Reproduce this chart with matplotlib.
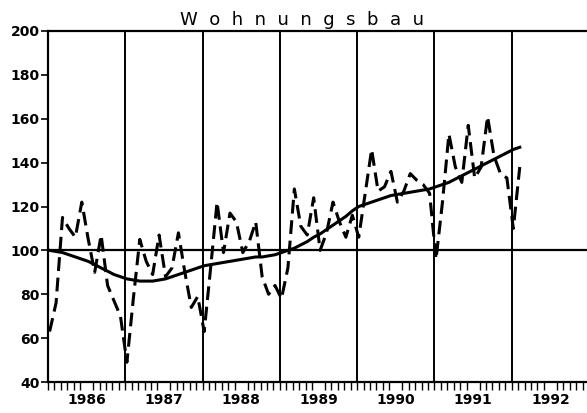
import numpy as np
import matplotlib
matplotlib.use("Agg")
import matplotlib.pyplot as plt
from matplotlib.ticker import MultipleLocator, FixedLocator

title = "Wohnungsbau"
start_year = 1986
years = [1986, 1987, 1988, 1989, 1990, 1991, 1992]
y_ticks = [40, 60, 80, 100, 120, 140, 160, 180, 200]

# monthly index values, Jan 1986 .. Feb 1992
wohnungsbau = [
    63, 76, 115, 110, 106, 122, 105, 90, 107, 84, 77, 70,      # 1986
    49, 78, 105, 95, 89, 107, 88, 92, 108, 90, 74, 79,         # 1987
    63, 92, 122, 99, 117, 113, 99, 104, 113, 88, 80, 84,       # 1988
    78, 92, 128, 111, 107, 124, 100, 108, 122, 113, 106, 116,  # 1989
    106, 126, 146, 127, 129, 136, 122, 127, 135, 132, 130, 126,  # 1990
    96, 122, 153, 138, 131, 157, 133, 138, 161, 143, 135, 133,  # 1991
    110, 138,                                                  # 1992
]
trend = [
    100, 99.5, 99, 98, 97, 96, 95, 93.5, 92, 90.5, 89, 88,
    87, 86.5, 86, 86, 86, 86.5, 87, 88, 89, 90, 91, 92,
    93, 93.5, 94, 94.5, 95, 95.5, 96, 96.5, 97, 97, 97.5, 98,
    99, 100, 101, 102.5, 104, 106, 107.5, 109.5, 111.5, 113.5, 115.5, 118,
    120, 121, 122, 123, 124, 125, 125.5, 126, 126.5, 127, 127.5, 128,
    129, 130, 131, 132.5, 134, 135.5, 137, 138.5, 140, 141.5, 143, 144.5,
    146, 147,
]

t = start_year + (np.arange(len(wohnungsbau)) + 0.25) / 12

fig = plt.figure(figsize=(5.87, 4.13), dpi=100)
ax = fig.add_axes([48 / 587, 31 / 413, 541 / 587, 351 / 413])
ax.set_position([48 / 587, 1 - 382 / 413, 541 / 587, 351 / 413])

ax.set_xlim(years[0], years[-1] + 1)
ax.set_ylim(40, 200)

for yr in years[1:]:
    ax.axvline(yr, color="black", lw=1.4, zorder=1)
ax.axhline(100, color="black", lw=1.6, zorder=1)

ax.plot(t, wohnungsbau, color="black", lw=2.2, ls=(0, (4.5, 2.2)), zorder=3)
ax.plot(t, trend, color="black", lw=2.2, zorder=4)

for s in ["left", "top", "bottom"]:
    ax.spines[s].set_linewidth(1.6)
ax.spines["right"].set_visible(False)

ax.yaxis.set_major_locator(FixedLocator(y_ticks))
ax.tick_params(axis="y", direction="out", length=5, width=1.2, pad=1,
               labelsize=10)
for lab in ax.get_yticklabels():
    lab.set_fontweight("bold")

ax.xaxis.set_major_locator(FixedLocator(years))
ax.xaxis.set_minor_locator(MultipleLocator(1 / 12))
ax.set_xticks([y + 0.5 for y in years], minor=False)
ax.set_xticklabels([str(y) for y in years], fontweight="bold", fontsize=10)
ax.tick_params(axis="x", which="major", length=0, pad=8)
ax.tick_params(axis="x", which="minor", direction="out", length=6, width=1.0)

fig.text(302 / 587, 1 - 25 / 413, "  ".join(title), ha="center",
         va="baseline", fontsize=13, color="black")

fig.savefig("out.png", dpi=100, facecolor="white")
